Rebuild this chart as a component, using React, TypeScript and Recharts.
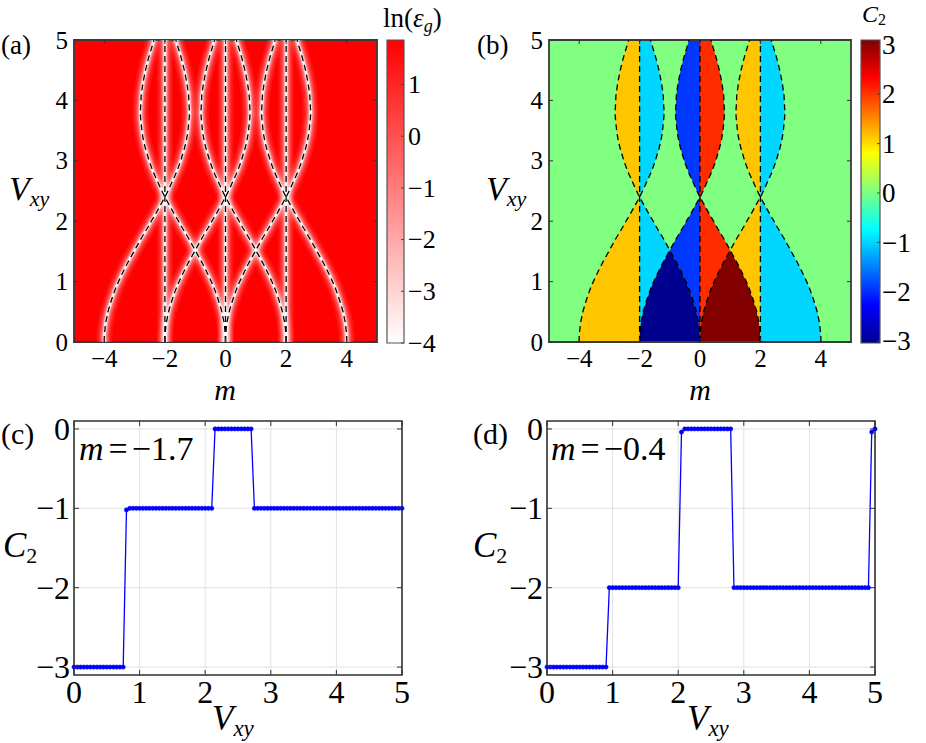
import React from 'react';
import { ComposedChart, LineChart, Line, Area, XAxis, YAxis, CartesianGrid, ReferenceArea } from 'recharts';

const FONT = '"Liberation Serif", "Times New Roman", serif';

// ---------- axis ticks ----------
const mTicks = [-4, -2, 0, 2, 4];
const vTicks = [0, 1, 2, 3, 4, 5];
const c2Ticks = [-3, -2, -1, 0];
const gapTicks = [-4, -3, -2, -1, 0, 1];
const chernTicks = [-3, -2, -1, 0, 1, 2, 3];
const gapMin = -4;
const gapMax = 1.86;
const chernMin = -3.04;
const chernMax = 3.1;

const heatV = [0, 0.1, 0.2, 0.3, 0.4, 0.5, 0.6, 0.7, 0.8, 0.9, 1.0, 1.1, 1.2, 1.3, 1.4, 1.5, 1.52, 1.6, 1.7, 1.8, 1.9, 2.0, 2.1, 2.2, 2.3, 2.4, 2.5, 2.6, 2.7, 2.8, 2.9, 3.0, 3.1, 3.2, 3.3, 3.4, 3.5, 3.6, 3.7, 3.8, 3.9, 4.0, 4.1, 4.2, 4.3, 4.4, 4.5, 4.6, 4.7, 4.8, 4.9, 5.0];
const gapOffset = [2.0, 2.0, 1.98, 1.96, 1.92, 1.88, 1.82, 1.76, 1.69, 1.62, 1.53, 1.44, 1.34, 1.24, 1.13, 1.02, 1.0, 0.91, 0.8, 0.68, 0.56, 0.45, 0.33, 0.22, 0.11, 0.0, -0.1, -0.19, -0.28, -0.37, -0.45, -0.52, -0.58, -0.64, -0.69, -0.73, -0.76, -0.78, -0.8, -0.81, -0.8, -0.79, -0.78, -0.75, -0.72, -0.68, -0.64, -0.59, -0.54, -0.48, -0.42, -0.36];
const gapCentersM = [-2, 0, 2];
const crossV = 1.52;
const nodeV = 2.4;

// ---------- C2 cuts (panels c/d) ----------
const vSamples = [0, 0.05, 0.1, 0.15, 0.2, 0.25, 0.3, 0.35, 0.4, 0.45, 0.5, 0.55, 0.6, 0.65, 0.7, 0.75, 0.8, 0.85, 0.9, 0.95, 1, 1.05, 1.1, 1.15, 1.2, 1.25, 1.3, 1.35, 1.4, 1.45, 1.5, 1.55, 1.6, 1.65, 1.7, 1.75, 1.8, 1.85, 1.9, 1.95, 2, 2.05, 2.1, 2.15, 2.2, 2.25, 2.3, 2.35, 2.4, 2.45, 2.5, 2.55, 2.6, 2.65, 2.7, 2.75, 2.8, 2.85, 2.9, 2.95, 3, 3.05, 3.1, 3.15, 3.2, 3.25, 3.3, 3.35, 3.4, 3.45, 3.5, 3.55, 3.6, 3.65, 3.7, 3.75, 3.8, 3.85, 3.9, 3.95, 4, 4.05, 4.1, 4.15, 4.2, 4.25, 4.3, 4.35, 4.4, 4.45, 4.5, 4.55, 4.6, 4.65, 4.7, 4.75, 4.8, 4.85, 4.9, 4.95, 5];
const c2AtMm17 = [
  -3, -3, -3, -3, -3, -3, -3, -3, -3, -3,
  -3, -3, -3, -3, -3, -3, -1.02, -1, -1, -1,
  -1, -1, -1, -1, -1, -1, -1, -1, -1, -1,
  -1, -1, -1, -1, -1, -1, -1, -1, -1, -1,
  -1, -1, -1, 0, 0, 0, 0, 0, 0, 0,
  0, 0, 0, 0, 0, -1, -1, -1, -1, -1,
  -1, -1, -1, -1, -1, -1, -1, -1, -1, -1,
  -1, -1, -1, -1, -1, -1, -1, -1, -1, -1,
  -1, -1, -1, -1, -1, -1, -1, -1, -1, -1,
  -1, -1, -1, -1, -1, -1, -1, -1, -1, -1,
  -1,
];
const c2AtMm04 = [
  -3, -3, -3, -3, -3, -3, -3, -3, -3, -3,
  -3, -3, -3, -3, -3, -3, -3, -3, -3, -2,
  -2, -2, -2, -2, -2, -2, -2, -2, -2, -2,
  -2, -2, -2, -2, -2, -2, -2, -2, -2, -2,
  -2, -0.04, 0, 0, 0, 0, 0, 0, 0, 0,
  0, 0, 0, 0, 0, 0, 0, -2, -2, -2,
  -2, -2, -2, -2, -2, -2, -2, -2, -2, -2,
  -2, -2, -2, -2, -2, -2, -2, -2, -2, -2,
  -2, -2, -2, -2, -2, -2, -2, -2, -2, -2,
  -2, -2, -2, -2, -2, -2, -2, -2, -2, -0.04,
  0,
];

const jet = {
  m3: '#00008F',
  m2: '#0038FF',
  m1: '#00D6FF',
  z: '#80FF80',
  p1: '#FFC600',
  p2: '#FF2C00',
  p3: '#820000',
};

// ---------- derived tables ----------
const heatRows = heatV.map((V, i) => {
  const f = gapOffset[i];
  const a = Math.abs(f);
  const low = V <= nodeV;
  const beforeCross = V <= crossV;
  const row: Record<string, any> = { V };
  gapCentersM.forEach((c, k) => {
    row[`cp${k}`] = c + f;
    row[`cm${k}`] = c - f;
    row[`vl${k}`] = c;
  });
  row.yelL = [-2 - a, -2];
  row.cyaL = low ? [-2, Math.min(-f, -2 + f)] : [-2, -2 + a];
  row.navy = beforeCross ? [-f, -2 + f] : [-1, -1];
  row.blue = low ? [Math.max(-f, -2 + f), 0] : [-a, 0];
  row.red = low ? [0, Math.min(f, 2 - f)] : [0, a];
  row.dred = beforeCross ? [2 - f, f] : [1, 1];
  row.yelR = low ? [Math.max(f, 2 - f), 2] : [2 - a, 2];
  row.cyaR = [2, 2 + a];
  return row;
});

const curveKeys = gapCentersM.flatMap((_, k) => [`cp${k}`, `cm${k}`, `vl${k}`]);
const regionStyles: [string, string][] = [
  ['yelL', jet.p1], ['cyaL', jet.m1], ['navy', jet.m3], ['blue', jet.m2],
  ['red', jet.p2], ['dred', jet.p3], ['yelR', jet.p1], ['cyaR', jet.m1],
];
const glowLayers = [
  { w: 16, o: 0.07 },
  { w: 12, o: 0.1 },
  { w: 9, o: 0.14 },
  { w: 6.5, o: 0.2 },
  { w: 4.5, o: 0.35 },
  { w: 2.6, o: 0.85 },
];

const rowsC = vSamples.map((V, i) => ({ V, c: c2AtMm17[i] }));
const rowsD = vSamples.map((V, i) => ({ V, c: c2AtMm04[i] }));
const cbRows = [{ x: 0 }, { x: 1 }];

// ---------- ticks ----------
const fmt = (v: number) => (v < 0 ? '\u2212' + Math.abs(v) : String(v));
type TickOpts = { fs: number; gap: number; len: number; span?: number };
const txtStyle = { fontFamily: FONT };

const makeBottomTick = (o: TickOpts) => (p: any) => (
  <g>
    <line x1={p.x} x2={p.x} y1={p.y} y2={p.y - o.len} stroke="#333" strokeWidth={1} />
    <line x1={p.x} x2={p.x} y1={p.y - (o.span || 0)} y2={p.y - (o.span || 0) + o.len} stroke="#333" strokeWidth={1} />
    <text x={p.x} y={p.y + o.gap} textAnchor="middle" fontSize={o.fs} style={txtStyle} fill="#000">
      {fmt(p.payload.value)}
    </text>
  </g>
);
const makeLeftTick = (o: TickOpts) => (p: any) => (
  <g>
    <line x1={p.x} x2={p.x + o.len} y1={p.y} y2={p.y} stroke="#333" strokeWidth={1} />
    <line x1={p.x + (o.span || 0)} x2={p.x + (o.span || 0) - o.len} y1={p.y} y2={p.y} stroke="#333" strokeWidth={1} />
    <text x={p.x - o.gap} y={p.y + 0.34 * o.fs} textAnchor="end" fontSize={o.fs} style={txtStyle} fill="#000">
      {fmt(p.payload.value)}
    </text>
  </g>
);
const makeRightTick = (o: TickOpts) => (p: any) => (
  <g>
    <line x1={p.x} x2={p.x - o.len} y1={p.y} y2={p.y} stroke="#444" strokeWidth={1} />
    <text x={p.x + o.gap} y={p.y + 0.34 * o.fs} textAnchor="start" fontSize={o.fs} style={txtStyle} fill="#000">
      {fmt(p.payload.value)}
    </text>
  </g>
);

// ---------- panels ----------
function PanelA() {
  return (
    <ComposedChart width={380} height={380} data={heatRows} layout="vertical" margin={{ top: 40, right: 3, bottom: 0, left: 0 }}>
      <CartesianGrid horizontal={false} vertical={false} fill="#FF0000" fillOpacity={1} stroke="none" />
      <XAxis type="number" domain={[-5, 5]} ticks={mTicks} allowDataOverflow interval={0} height={38} tickSize={0} tickMargin={0} tickLine={false} axisLine={false} tick={makeBottomTick({ fs: 25, gap: 25, len: 4, span: 302 })} />
      <YAxis type="number" dataKey="V" domain={[0, 5]} ticks={vTicks} reversed allowDataOverflow interval={0} width={74} tickSize={0} tickMargin={0} tickLine={false} axisLine={false} tick={makeLeftTick({ fs: 25, gap: 6, len: 4, span: 303 })} />
      {glowLayers.map((g, gi) =>
        curveKeys.map((k) => (
          <Line key={`g${gi}-${k}`} dataKey={k} type="monotone" stroke="#FFFFFF" strokeWidth={g.w} strokeOpacity={g.o} dot={false} activeDot={false} isAnimationActive={false} />
        ))
      )}
      {curveKeys.map((k) => (
        <Line key={`d-${k}`} dataKey={k} type="monotone" stroke="#000" strokeWidth={1.3} strokeDasharray="6 4" dot={false} activeDot={false} isAnimationActive={false} />
      ))}
      <ReferenceArea x1={-5} x2={5} y1={0} y2={5} fill="none" stroke="#3a3a3a" strokeWidth={1.8} ifOverflow="visible" />
    </ComposedChart>
  );
}

function PanelB() {
  return (
    <ComposedChart width={380} height={380} data={heatRows} layout="vertical" margin={{ top: 40, right: 4, bottom: 0, left: 0 }}>
      <CartesianGrid horizontal={false} vertical={false} fill={jet.z} fillOpacity={1} stroke="none" />
      <XAxis type="number" domain={[-5, 5]} ticks={mTicks} allowDataOverflow interval={0} height={38} tickSize={0} tickMargin={0} tickLine={false} axisLine={false} tick={makeBottomTick({ fs: 25, gap: 25, len: 4, span: 302 })} />
      <YAxis type="number" dataKey="V" domain={[0, 5]} ticks={vTicks} reversed allowDataOverflow interval={0} width={74} tickSize={0} tickMargin={0} tickLine={false} axisLine={false} tick={makeLeftTick({ fs: 25, gap: 6, len: 4, span: 302 })} />
      {regionStyles.map(([k, col]) => (
        <Area key={`a-${k}`} dataKey={k} type="linear" fill={col} fillOpacity={1} stroke="none" dot={false} activeDot={false} isAnimationActive={false} />
      ))}
      {curveKeys.map((k) => (
        <Line key={`d-${k}`} dataKey={k} type="monotone" stroke="#000" strokeWidth={1.3} strokeDasharray="6 4" dot={false} activeDot={false} isAnimationActive={false} />
      ))}
      <ReferenceArea x1={-5} x2={5} y1={0} y2={5} fill="none" stroke="#3a3a3a" strokeWidth={1.8} ifOverflow="visible" />
    </ComposedChart>
  );
}

function StepPanel({ rows }: { rows: { V: number; c: number }[] }) {
  return (
    <LineChart width={410} height={340} data={rows} margin={{ top: 41, right: 8, bottom: 0, left: 0 }}>
      <CartesianGrid stroke="#e2e2e2" strokeWidth={1} />
      <XAxis type="number" dataKey="V" domain={[0, 5]} ticks={vTicks} interval={0} height={45} tickSize={0} tickMargin={0} tickLine={false} axisLine={false} tick={makeBottomTick({ fs: 32, gap: 28, len: 5, span: 254 })} />
      <YAxis type="number" domain={[-3.1, 0.1]} ticks={c2Ticks} interval={0} width={74} tickSize={0} tickMargin={0} tickLine={false} axisLine={false} tick={makeLeftTick({ fs: 32, gap: 4, len: 5, span: 328 })} />
      <Line dataKey="c" type="linear" stroke="#0000FF" strokeWidth={1.3} dot={{ r: 2.1, fill: '#0000FF', stroke: '#0000FF', strokeWidth: 0.6 }} activeDot={false} isAnimationActive={false} />
      <ReferenceArea x1={0} x2={5} y1={-3.1} y2={0.1} fill="none" stroke="#333" strokeWidth={1.6} ifOverflow="visible" />
    </LineChart>
  );
}

function GapColorbar() {
  return (
    <ComposedChart width={80} height={380} data={cbRows} margin={{ top: 40, right: 0, bottom: 37, left: 7 }}>
      <defs>
        <linearGradient id="gapGrad" x1="0" y1="1" x2="0" y2="0">
          <stop offset="0" stopColor="#FFFFFF" />
          <stop offset="1" stopColor="#FF0000" />
        </linearGradient>
      </defs>
      <XAxis type="number" dataKey="x" domain={[0, 1]} hide />
      <YAxis orientation="right" type="number" domain={[gapMin, gapMax]} ticks={gapTicks} allowDataOverflow interval={0} width={56} tickSize={0} tickMargin={0} tickLine={false} axisLine={false} tick={makeRightTick({ fs: 26, gap: 4, len: 3 })} />
      <ReferenceArea x1={0} x2={1} y1={gapMin} y2={gapMax} fill="url(#gapGrad)" fillOpacity={1} stroke="#555" strokeWidth={1.2} ifOverflow="visible" />
    </ComposedChart>
  );
}

function ChernColorbar() {
  return (
    <ComposedChart width={71} height={380} data={cbRows} margin={{ top: 40, right: 0, bottom: 37, left: 6 }}>
      <defs>
        <linearGradient id="jetGrad" x1="0" y1="1" x2="0" y2="0">
          <stop offset="0" stopColor="#00008F" />
          <stop offset="0.125" stopColor="#0000FF" />
          <stop offset="0.375" stopColor="#00FFFF" />
          <stop offset="0.625" stopColor="#FFFF00" />
          <stop offset="0.875" stopColor="#FF0000" />
          <stop offset="1" stopColor="#800000" />
        </linearGradient>
      </defs>
      <XAxis type="number" dataKey="x" domain={[0, 1]} hide />
      <YAxis orientation="right" type="number" domain={[chernMin, chernMax]} ticks={chernTicks} allowDataOverflow interval={0} width={46} tickSize={0} tickMargin={0} tickLine={false} axisLine={false} tick={makeRightTick({ fs: 27, gap: 2, len: 3 })} />
      <ReferenceArea x1={0} x2={1} y1={chernMin} y2={chernMax} fill="url(#jetGrad)" fillOpacity={1} stroke="#555" strokeWidth={1.2} ifOverflow="visible" />
    </ComposedChart>
  );
}

function Labels() {
  const it = { fontStyle: 'italic' as const };
  return (
    <svg width={926} height={743} style={{ position: 'absolute', left: 0, top: 0, pointerEvents: 'none', fontFamily: FONT }}>
      <text x={1} y={54} fontSize={27}>(a)</text>
      <text x={477} y={54} fontSize={27}>(b)</text>
      <text x={1} y={444} fontSize={30}>(c)</text>
      <text x={473} y={444} fontSize={30}>(d)</text>

      <text x={9} y={200} fontSize={34}><tspan {...it}>V</tspan><tspan {...it} fontSize={22} dy={6}>xy</tspan></text>
      <text x={486} y={200} fontSize={34}><tspan {...it}>V</tspan><tspan {...it} fontSize={22} dy={6}>xy</tspan></text>
      <text x={225} y={400} fontSize={30} textAnchor="middle" {...it}>m</text>
      <text x={700} y={400} fontSize={30} textAnchor="middle" {...it}>m</text>

      <text x={383} y={27} fontSize={27}>ln(<tspan {...it}>ε</tspan><tspan {...it} fontSize={18} dy={5}>g</tspan><tspan dy={-5}>)</tspan></text>
      <text x={862} y={22} fontSize={24}><tspan {...it}>C</tspan><tspan fontSize={16} dy={3}>2</tspan></text>

      <text x={3} y={557} fontSize={35}><tspan {...it}>C</tspan><tspan fontSize={22} dy={6}>2</tspan></text>
      <text x={473} y={557} fontSize={35}><tspan {...it}>C</tspan><tspan fontSize={22} dy={6}>2</tspan></text>
      <text x={212} y={730} fontSize={35}><tspan {...it}>V</tspan><tspan {...it} fontSize={23} dy={6}>xy</tspan></text>
      <text x={687} y={730} fontSize={35}><tspan {...it}>V</tspan><tspan {...it} fontSize={23} dy={6}>xy</tspan></text>

      <text x={79} y={460} fontSize={34}><tspan {...it}>m</tspan><tspan dx={5}>=</tspan><tspan dx={4}>−1.7</tspan></text>
      <text x={551} y={460} fontSize={34}><tspan {...it}>m</tspan><tspan dx={5}>=</tspan><tspan dx={4}>−0.4</tspan></text>
    </svg>
  );
}

const abs = (left: number, top: number): React.CSSProperties => ({ position: 'absolute', left, top });

export default function App() {
  return (
    <div style={{ position: 'absolute', left: 0, top: 0, width: 926, height: 743, background: '#fff', overflow: 'hidden', fontFamily: FONT }}>
      <div style={abs(0, 0)}><PanelA /></div>
      <div style={abs(380, 0)}><GapColorbar /></div>
      <div style={abs(475, 0)}><PanelB /></div>
      <div style={abs(855, 0)}><ChernColorbar /></div>
      <div style={abs(0, 380)}><StepPanel rows={rowsC} /></div>
      <div style={abs(473, 380)}><StepPanel rows={rowsD} /></div>
      <Labels />
    </div>
  );
}
